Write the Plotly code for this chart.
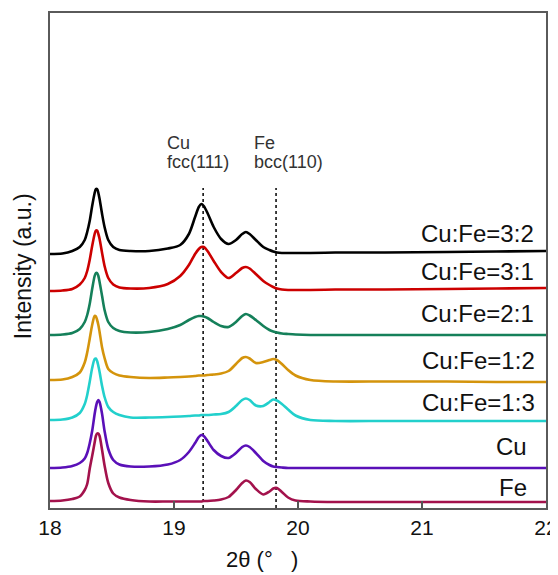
import plotly.graph_objects as go

# ---- data ----
two_theta = [18.00, 18.10, 18.18, 18.24, 18.28, 18.30, 18.32, 18.34, 18.36, 18.37,
             18.38, 18.39, 18.40, 18.42, 18.44, 18.47, 18.51, 18.56, 18.65, 18.80,
             18.95, 19.05, 19.12, 19.17, 19.20, 19.22, 19.24, 19.27, 19.32, 19.38,
             19.44, 19.50, 19.55, 19.58, 19.61, 19.66, 19.72, 19.77, 19.80, 19.83,
             19.87, 19.92, 19.98, 20.10, 20.30, 20.70, 21.20, 21.60, 22.00]

series_names = ["Cu:Fe=3:2", "Cu:Fe=3:1", "Cu:Fe=2:1", "Cu:Fe=1:2", "Cu:Fe=1:3", "Cu", "Fe"]

int_cufe_3_2 = [0, 0.5, 3, 7, 14, 22, 33, 48, 61, 65, 65, 61, 55, 40, 27, 14, 7, 4, 3, 3,
                5.5, 9, 20, 37, 47, 50, 48, 41, 27, 15, 10, 14, 20, 22, 20, 14, 7, 4, 2.5, 1.5,
                1, 1, 1, 1, 1.5, 1.5, 2, 2.5, 3]
int_cufe_3_1 = [0, 0.5, 2, 6.5, 13, 20, 31, 45, 57, 60.5, 60.5, 57, 52, 38, 25, 13, 6.5, 3.5, 2.5, 3,
                7, 15, 26, 37, 42, 44, 44, 40, 30, 19, 13, 18, 23, 24, 22.5, 17, 10, 6, 4, 2.5,
                1.5, 1, 1, 1, 1.5, 1.5, 2, 2.5, 3]
int_cufe_2_1 = [0, 0.5, 2, 6, 13, 20, 31, 46, 59, 62, 62, 59, 53, 39, 25, 13, 7, 4, 2.5, 3,
                6, 10, 15, 18, 19, 19, 18.5, 17, 13, 9, 8, 13, 19, 21, 19.5, 15, 9, 5, 3.5, 2.5,
                1.5, 1, 0.5, 0, 0, 0, 0, 0, 0]
int_cufe_1_2 = [0, 0.5, 3, 7.5, 17.5, 27.5, 41, 55, 64, 63.5, 60, 55, 48, 32.5, 22, 11, 7, 4.5, 3, 2,
                2.5, 3, 3.5, 4, 4.5, 4.5, 4.5, 5, 5.5, 6.5, 9, 16, 22, 23, 21.5, 17, 18, 20, 21, 20,
                16, 10, 4.5, 0, -1.5, -1.5, -1.5, -2, -2]
int_cufe_1_3 = [0, 0.5, 2.5, 7, 16, 25, 38, 52, 61, 61.5, 59, 54, 48, 34, 23, 13, 8, 5, 2.5, 2.5,
                3, 3.5, 4, 4.5, 4.5, 5, 5, 5, 5.5, 6, 8, 14, 20, 21.5, 20, 14.5, 14, 18, 20.5, 19.5,
                16, 10.5, 4.5, 0, -1, -1, -1, -1, -1]
int_cu = [0, 0.5, 2, 5, 9.5, 15, 24.5, 37, 54, 61, 66, 68, 66, 54, 37, 19, 8, 3.5, 1.5, 1.5,
          3.5, 8, 16, 25, 31, 33, 32, 27, 18, 12, 10, 15, 21, 22.5, 21, 15, 7, 3, 1.5, 1,
          0.5, 0, 0, 0, 0, 0, 0, 0, 0]
int_fe = [0, 0.5, 2, 4.5, 11, 17, 32, 45, 58.5, 65, 67.5, 67.5, 65, 51, 35.5, 18, 7.5, 3.5, 1, -0.5,
          -0.5, -0.5, -0.5, -0.5, -0.5, -0.5, 0, 0, 0.5, 1.5, 4, 11, 18, 20.5, 19, 12, 6.5, 9.5, 12.5, 13,
          9, 3.5, 0.5, -0.5, -1, -1, -1, -1, -1]

intensities = [int_cufe_3_2, int_cufe_3_1, int_cufe_2_1, int_cufe_1_2, int_cufe_1_3, int_cu, int_fe]
offsets = [254, 217, 173, 128, 88, 40, 7]          # vertical stacking offsets (a.u.)
ref_peaks = [19.235, 19.823]                       # Cu fcc(111), Fe bcc(110)
ref_top = 320

# ---- styling ----
colors = ["#000000", "#CC0000", "#15805A", "#D4940C", "#22D0CC", "#5A10B8", "#A3124C"]
label_x = [21.92, 21.92, 21.92, 21.925, 21.925, 21.86, 21.86]
label_dy = [21, 20, 22, 20, 18, 22, 14]

fig = go.Figure()
for name, inten, off, col in zip(series_names, intensities, offsets, colors):
    fig.add_trace(go.Scatter(
        x=two_theta, y=[v + off for v in inten], mode="lines", name=name,
        line=dict(color=col, width=2.6, shape="spline", smoothing=0.8),
        showlegend=False, hoverinfo="skip"))

for xp in ref_peaks:
    fig.add_shape(type="line", x0=xp, x1=xp, y0=0, y1=ref_top, xref="x", yref="y",
                  line=dict(color="#111111", width=1.6, dash="dot"), layer="below")

ann = []
for name, off, lx, dy in zip(series_names, offsets, label_x, label_dy):
    ann.append(dict(x=lx, y=off + dy, xref="x", yref="y", text=name, showarrow=False,
                    xanchor="right", yanchor="middle",
                    font=dict(size=24, color="#111111", family="Liberation Sans, Arial")))

peak_font = dict(size=18, color="#333333", family="Liberation Sans, Arial")
ann += [
    dict(x=18.925, y=365, xref="x", yref="y", text="Cu", showarrow=False, xanchor="left", yanchor="middle", font=peak_font),
    dict(x=18.925, y=346, xref="x", yref="y", text="fcc(111)", showarrow=False, xanchor="left", yanchor="middle", font=peak_font),
    dict(x=19.625, y=365, xref="x", yref="y", text="Fe", showarrow=False, xanchor="left", yanchor="middle", font=peak_font),
    dict(x=19.625, y=346, xref="x", yref="y", text="bcc(110)", showarrow=False, xanchor="left", yanchor="middle", font=peak_font),
    dict(x=-0.054, y=0.489, xref="paper", yref="paper", text="Intensity (a.u.)", textangle=-90,
         showarrow=False, xanchor="center", yanchor="middle",
         font=dict(size=23, color="#111111", family="Liberation Sans, Arial")),
    dict(x=0.427, y=-0.105, xref="paper", yref="paper", text="2θ (°   )",
         showarrow=False, xanchor="center", yanchor="middle",
         font=dict(size=22, color="#111111", family="Liberation Sans, Arial")),
]

# the page body adds an 8px offset, so the figure is sized 8px smaller
fig.update_layout(
    width=550, height=567,
    margin=dict(l=42, r=12, t=5, b=67, autoexpand=False),
    paper_bgcolor="white", plot_bgcolor="white",
    annotations=ann,
    xaxis=dict(range=[18, 22], tickvals=[18, 19, 20, 21, 22], ticks="inside", ticklen=7,
               tickwidth=1.5, tickcolor="#555555", showline=True, mirror=True,
               linecolor="#5a5a5a", linewidth=2, showgrid=False, zeroline=False,
               tickfont=dict(size=21, color="#111111", family="Liberation Sans, Arial")),
    yaxis=dict(range=[0, 495], showticklabels=False, ticks="", showline=True, mirror=True,
               linecolor="#5a5a5a", linewidth=2, showgrid=False, zeroline=False),
)

fig.write_html("out.html")
